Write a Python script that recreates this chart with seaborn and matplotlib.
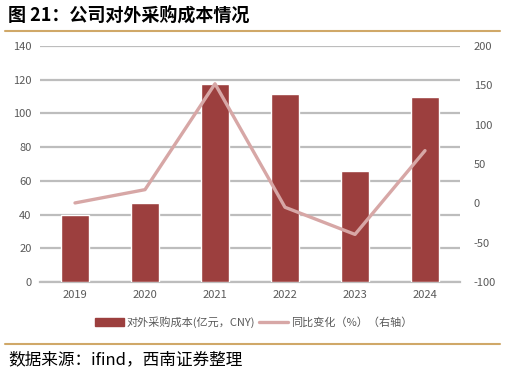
import numpy as np
import pandas as pd
import matplotlib
matplotlib.use('Agg')
import matplotlib.pyplot as plt
import seaborn as sns
from matplotlib.lines import Line2D
from matplotlib.patches import Patch

# 数据
years = ['2019', '2020', '2021', '2022', '2023', '2024']
cost = [40.0, 46.7, 117.4, 111.3, 66.0, 109.5]      # 亿元
yoy = [0.5, 17.4, 152.0, -5.0, -39.5, 67.0]          # %

bar_color = '#9C3F3E'
line_color = '#D7A7A6'
grid_color = '#BDBDBD'
text_color = '#595959'
rule_color = '#D0A868'

sns.set_theme(style='white')
plt.rcParams['font.family'] = ['Noto Sans CJK SC', 'DejaVu Sans']
plt.rcParams['axes.unicode_minus'] = False

df = pd.DataFrame({'year': years, 'cost': cost, 'yoy': yoy})

fig = plt.figure(figsize=(5.07, 3.76), dpi=100)
ax = fig.add_axes([40 / 507, 1 - 282 / 376, 420 / 507, 236 / 376])

sns.barplot(data=df, x='year', y='cost', color=bar_color, width=0.4,
            saturation=1, ax=ax, zorder=3)
ax.set_xlim(-0.5, 5.5)
ax.set_ylim(0, 140)
ax.set_yticks(range(0, 141, 20))
ax.yaxis.grid(True, color=grid_color, linewidth=1.6, zorder=0)
ax.set_axisbelow(True)
ax.set_xlabel('')
ax.set_ylabel('')
for s in ['top', 'right', 'left']:
    ax.spines[s].set_visible(False)
ax.spines['bottom'].set_color(grid_color)
ax.spines['bottom'].set_linewidth(1.6)
ax.tick_params(axis='both', length=0, labelsize=8, colors=text_color, pad=6)

ax2 = ax.twinx()
sns.lineplot(x=np.arange(len(years)), y=df['yoy'], color=line_color,
             linewidth=2.4, ax=ax2)
ax2.set_ylim(-100, 200)
ax2.set_yticks(range(-100, 201, 50))
ax2.set_ylabel('')
for s in ['top', 'right', 'left', 'bottom']:
    ax2.spines[s].set_visible(False)
ax2.tick_params(axis='y', length=0, labelsize=8, colors=text_color, pad=10)
ax2.grid(False)

handles = [Patch(facecolor=bar_color, edgecolor=bar_color),
           Line2D([0], [0], color=line_color, linewidth=2.4)]
labels = ['对外采购成本(亿元，CNY)', '同比变化（%）（右轴）']
fig.legend(handles, labels, loc='center', bbox_to_anchor=(0.5, 1 - 322 / 376),
           ncol=2, frameon=False, fontsize=8, labelcolor=text_color,
           handlelength=2.6, handletextpad=0.3, columnspacing=0.3)

fig.text(8 / 507, 1 - 15 / 376, '图 21：公司对外采购成本情况', fontsize=13,
         fontweight='bold', color='black', va='center', ha='left')
fig.add_artist(Line2D([5 / 507, 500 / 507], [1 - 31 / 376] * 2,
                      color=rule_color, linewidth=1.5))
fig.add_artist(Line2D([5 / 507, 500 / 507], [1 - 344 / 376] * 2,
                      color=rule_color, linewidth=1.5))
fig.text(8 / 507, 1 - 360 / 376, '数据来源：ifind，西南证券整理', fontsize=12,
         style='italic', color='black', va='center', ha='left')

fig.savefig('out.png', dpi=100)
